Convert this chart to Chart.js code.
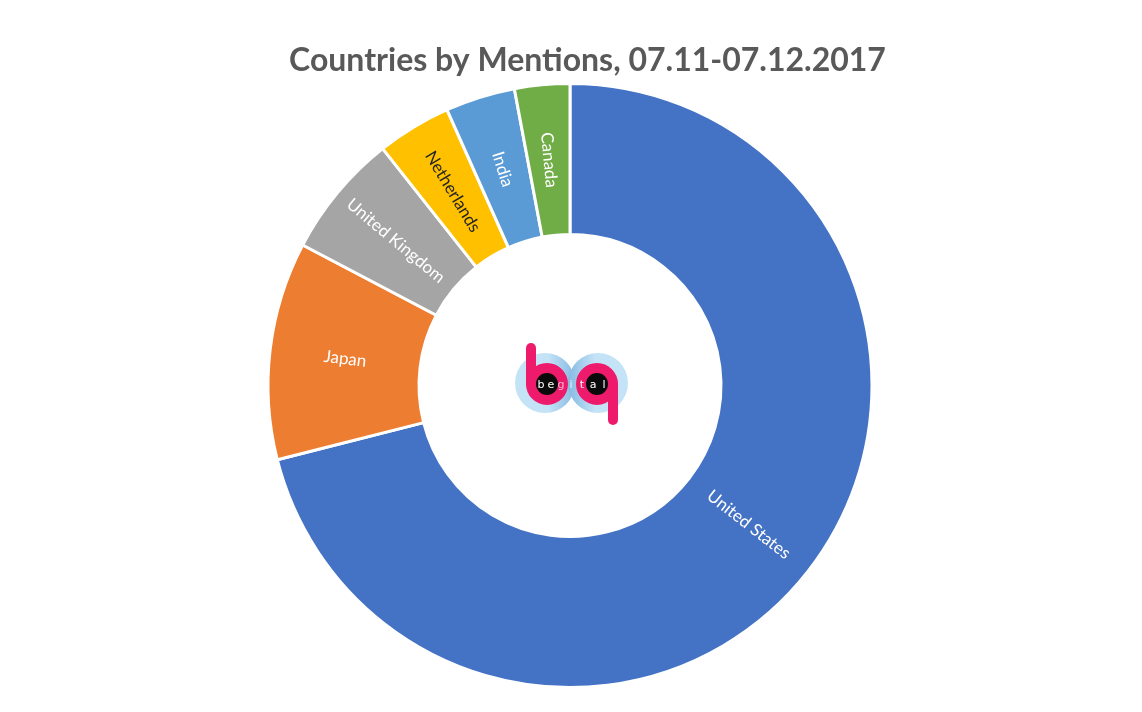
<!DOCTYPE html>
<html>
<head>
<meta charset="utf-8">
<title>Countries by Mentions</title>
<script src="https://cdn.jsdelivr.net/npm/chart.js@4"></script>
<style>
  html, body { margin: 0; padding: 0; background: #fff; overflow: hidden; }
  #wrap { position: relative; width: 1142px; height: 712px; }
  #logo { position: absolute; left: 0; top: 0; pointer-events: none; }
</style>
</head>
<body>
<div id="wrap">
  <canvas id="chart" width="1142" height="712"></canvas>
  <svg id="logo" width="1142" height="712" viewBox="0 0 1142 712">
    <defs>
      <linearGradient id="haloLeft" x1="0" x2="1" y1="0" y2="0">
        <stop offset="0.55" stop-color="#c4e3f7"/>
        <stop offset="1" stop-color="#86b9e2"/>
      </linearGradient>
      <linearGradient id="haloRight" x1="0" x2="1" y1="0" y2="0">
        <stop offset="0" stop-color="#86b9e2"/>
        <stop offset="0.45" stop-color="#c4e3f7"/>
      </linearGradient>
    </defs>
    <circle cx="545" cy="383" r="30" fill="url(#haloLeft)"/>
    <circle cx="598" cy="383" r="30" fill="url(#haloRight)"/>
    <circle cx="547" cy="384" r="16" fill="#0a0a0a" stroke="#ee1b6d" stroke-width="10"/>
    <circle cx="597" cy="384" r="16" fill="#0a0a0a" stroke="#ee1b6d" stroke-width="10"/>
    <line x1="531" y1="348" x2="531" y2="384" stroke="#ee1b6d" stroke-width="10" stroke-linecap="round"/>
    <line x1="613" y1="384" x2="613" y2="420" stroke="#ee1b6d" stroke-width="10" stroke-linecap="round"/>
    <g font-family="'DejaVu Sans'" font-size="11" text-anchor="middle">
      <text x="541 551" y="388" fill="#ffffff">be</text>
      <text x="561" y="388" fill="#f6b3cf">g</text>
      <text x="571" y="388" fill="#e3f1fb">i</text>
      <text x="582" y="388" fill="#ffffff">t</text>
      <text x="593 604" y="388" fill="#ffffff">al</text>
    </g>
  </svg>
</div>
<script>
const chartTitle = "Countries by Mentions, 07.11-07.12.2017";
const countries = ["United States", "Japan", "United Kingdom", "Netherlands", "India", "Canada"];
const mentions = [71.05, 11.65, 6.65, 3.97, 3.73, 2.95];
const sliceColors = ["#4472c4", "#ed7d31", "#a5a5a5", "#ffc000", "#5b9bd5", "#70ad47"];
const labelColors = ["#ffffff", "#ffffff", "#ffffff", "#262626", "#ffffff", "#ffffff"];

// radial slice labels and an off-centre title, neither of which the stock plugins can do
const sliceLabels = {
  id: "sliceLabels",
  afterDatasetsDraw(chart) {
    const ctx = chart.ctx;
    const arcs = chart.getDatasetMeta(0).data;

    ctx.save();
    ctx.textAlign = "center";
    ctx.textBaseline = "middle";
    ctx.font = "17px Lato";
    arcs.forEach((arc, i) => {
      const p = arc.getCenterPoint();
      let angle = Math.atan2(p.y - arc.y, p.x - arc.x);
      if (Math.cos(angle) < 0) angle += Math.PI;
      ctx.save();
      ctx.translate(p.x, p.y);
      ctx.rotate(angle);
      ctx.fillStyle = labelColors[i];
      ctx.fillText(countries[i], 0, 0);
      ctx.restore();
    });

    ctx.font = "bold 32px Lato";
    ctx.fillStyle = "#595959";
    ctx.fillText(chartTitle, 587.5, 61);
    ctx.restore();
  },
};

new Chart(document.getElementById("chart"), {
  type: "doughnut",
  data: {
    labels: countries,
    datasets: [{
      data: mentions,
      backgroundColor: sliceColors,
      borderColor: "#ffffff",
      borderWidth: 3,
      borderAlign: "center",
    }],
  },
  options: {
    responsive: false,
    animation: false,
    cutout: "50%",
    layout: { padding: { top: 82, bottom: 23, left: 0, right: 2 } },
    plugins: { legend: { display: false }, title: { display: false }, tooltip: { enabled: false } },
  },
  plugins: [sliceLabels],
});
</script>
</body>
</html>
